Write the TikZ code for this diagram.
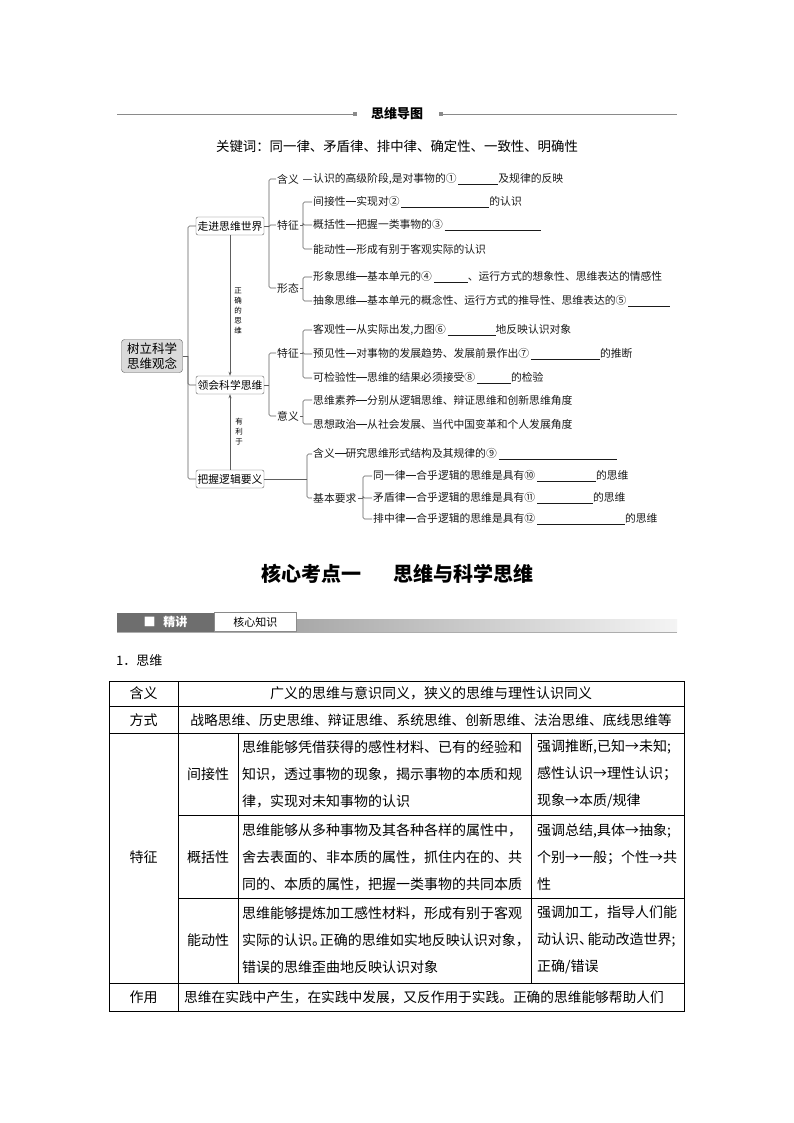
\documentclass[tikz,border=0pt]{standalone}
\usepackage{fontspec}
\setmainfont{Noto Sans CJK SC}
\definecolor{mInk}{HTML}{1A1A1A}
\definecolor{mLine}{HTML}{5E5E5E}
\definecolor{mRoot}{HTML}{DADADA}
\definecolor{mRule}{HTML}{8A8A8A}
\definecolor{mBar}{HTML}{6E6E6E}
\definecolor{mShadeL}{HTML}{A8A8A8}
\definecolor{mShadeR}{HTML}{F4F4F4}
\usetikzlibrary{arrows.meta}
\newcommand{\mmfont}{\fontsize{10.8}{12}\selectfont}
\newcommand{\tbfont}{\fontsize{14}{27}\selectfont}
\newcommand{\fillgap}[1]{\,\rule[-1.5pt]{#1}{0.5pt}}
\newcommand{\mmdash}{\rule[0.36em]{1em}{0.45pt}}

\begin{document}
\begin{tikzpicture}[x=1pt, y=-1pt,
  rootbox/.style={draw=mLine, rounded corners=3pt, fill=mRoot, align=center,
              minimum width=61pt, minimum height=33pt, inner sep=1pt,
              font=\fontsize{12.5}{15.5}\selectfont},
  topicbox/.style={draw=mLine, rounded corners=2pt, fill=white, font=\mmfont,
              minimum width=68pt, minimum height=18pt, inner sep=1pt},
  lbl/.style={font=\mmfont, inner sep=1pt, anchor=west, text=mInk},
  item/.style={font=\mmfont, inner sep=1pt, anchor=west, text=mInk},
  branch/.style={draw=mLine, line width=0.6pt, rounded corners=1.5pt},
  rel/.style={draw=mLine, line width=0.6pt, -{Stealth[length=4pt,width=3pt]}},
  vtxt/.style={font=\fontsize{7.5}{10}\selectfont, align=center, inner sep=0pt},
  sq/.style={fill=mRule, minimum size=4pt, inner sep=0pt},
  rule/.style={draw=mRule, line width=0.8pt},
  cellc/.style={font=\tbfont, inner sep=0pt, align=center},
  cellw/.style={font=\tbfont, inner sep=0pt, align=left, anchor=west},
  grid/.style={draw=black, line width=0.7pt}]

  \useasboundingbox (0,0) rectangle (794,1123);
  \fill[white] (0,0) rectangle (794,1123);

  % title line
  \node[font=\fontsize{13}{15}\selectfont\bfseries, inner sep=0pt] (ttl) at (397,114) {思维导图};
  \node[sq] (sqL) at (355,114) {};
  \node[sq] (sqR) at (441,114) {};
  \coordinate (tlL) at (117,114);
  \coordinate (tlR) at (677,114);
  \draw[rule] (tlL) -- (sqL.west);
  \draw[rule] (sqR.east) -- (tlR);
  \node[font=\fontsize{13.4}{15}\selectfont, inner sep=0pt] (kw) at (397,146)
    {关键词：同一律、矛盾律、排中律、确定性、一致性、明确性};

  % mind map
  \node[rootbox] (root) at (152,356) {树立科学\\思维观念};
  \node[topicbox] (zj) at (230,226) {走进思维世界};
  \node[topicbox] (lh) at (230,385) {领会科学思维};
  \node[topicbox] (bw) at (230,479) {把握逻辑要义};
  \coordinate (b0) at (188,356);
  \draw[branch] (root.east) -- (b0);
  \foreach \n in {zj,lh,bw}{
    \draw[branch] (b0) |- (\n.west);}
  \draw[rel] (zj.south) -- (lh.north);
  \draw[rel] (bw.north) -- (lh.south);
  \node[vtxt] (lbz) at (238,311) {正\\确\\的\\思\\维};
  \node[vtxt] (lby) at (239,432) {有\\利\\于};

  % 走进思维世界
  \node[lbl] (hy1) at (276,179) {含义};
  \node[lbl] (tz1) at (276,225) {特征};
  \node[lbl] (xt1) at (276,288) {形态};
  \coordinate (b1) at (269,226);
  \draw[branch] (zj.east) -- (b1);
  \foreach \n in {hy1,tz1,xt1}{
    \draw[branch] (b1) |- (\n.west);}
  \node[item] (hy1i) at (312,179) {认识的高级阶段,是对事物的①\fillgap{40pt}及规律的反映};
  \draw[branch] ([xshift=3pt]hy1.east) -- (hy1i.west);
  \node[item] (jx) at (312,202) {间接性\mmdash 实现对②\fillgap{88pt}的认识};
  \node[item] (gk) at (312,225) {概括性\mmdash 把握一类事物的③\fillgap{96pt}};
  \node[item] (nd) at (312,249) {能动性\mmdash 形成有别于客观实际的认识};
  \coordinate (b2) at (303,225);
  \draw[branch] (tz1.east) -- (b2);
  \foreach \n in {jx,gk,nd}{
    \draw[branch] (b2) |- (\n.west);}
  \node[item] (xx) at (312,277) {形象思维\mmdash 基本单元的④\fillgap{34pt}、运行方式的想象性、思维表达的情感性};
  \node[item] (cx) at (312,301) {抽象思维\mmdash 基本单元的概念性、运行方式的推导性、思维表达的⑤\fillgap{42pt}};
  \coordinate (b3) at (303,288);
  \draw[branch] (xt1.east) -- (b3);
  \foreach \n in {xx,cx}{
    \draw[branch] (b3) |- (\n.west);}

  % 领会科学思维
  \node[lbl] (tz2) at (276,353) {特征};
  \node[lbl] (yy2) at (276,416) {意义};
  \coordinate (b4) at (269,385);
  \draw[branch] (lh.east) -- (b4);
  \foreach \n in {tz2,yy2}{
    \draw[branch] (b4) |- (\n.west);}
  \node[item] (kg) at (312,330) {客观性\mmdash 从实际出发,力图⑥\fillgap{48pt}地反映认识对象};
  \node[item] (yj) at (312,354) {预见性\mmdash 对事物的发展趋势、发展前景作出⑦\fillgap{69pt}的推断};
  \node[item] (kj) at (312,378) {可检验性\mmdash 思维的结果必须接受⑧\fillgap{34pt}的检验};
  \coordinate (b5) at (303,353);
  \draw[branch] (tz2.east) -- (b5);
  \foreach \n in {kg,yj,kj}{
    \draw[branch] (b5) |- (\n.west);}
  \node[item] (sw) at (312,400) {思维素养\mmdash 分别从逻辑思维、辩证思维和创新思维角度};
  \node[item] (sx) at (312,424) {思想政治\mmdash 从社会发展、当代中国变革和个人发展角度};
  \coordinate (b6) at (303,416);
  \draw[branch] (yy2.east) -- (b6);
  \foreach \n in {sw,sx}{
    \draw[branch] (b6) |- (\n.west);}

  % 把握逻辑要义
  \node[item] (hy3) at (312,454) {含义\mmdash 研究思维形式结构及其规律的⑨\fillgap{118pt}};
  \node[item] (jb) at (312,498) {基本要求};
  \coordinate (b7) at (307,479);
  \draw[branch] (bw.east) -- (b7);
  \foreach \n in {hy3,jb}{
    \draw[branch] (b7) |- (\n.west);}
  \node[item] (ty) at (372,476) {同一律\mmdash 合乎逻辑的思维是具有⑩\fillgap{59pt}的思维};
  \node[item] (md) at (372,498) {矛盾律\mmdash 合乎逻辑的思维是具有⑪\fillgap{56pt}的思维};
  \node[item] (pz) at (372,519) {排中律\mmdash 合乎逻辑的思维是具有⑫\fillgap{88pt}的思维};
  \coordinate (b8) at (363,498);
  \draw[branch] (jb.east) -- (b8);
  \foreach \n in {ty,md,pz}{
    \draw[branch] (b8) |- (\n.west);}

  % heading and banner
  \node[font=\fontsize{20}{23}\selectfont\bfseries, inner sep=0pt] (kd) at (397,574)
    {核心考点一\hspace{32pt}思维与科学思维};
  \shade[left color=mShadeL, right color=mShadeR] (296,619) rectangle (677,632);
  \draw[mRule!70, line width=1.2pt] (117,632.5) -- (677,632.5);
  \node[fill=mBar, text=white, font=\fontsize{12}{14}\selectfont\bfseries,
        minimum width=97pt, minimum height=19pt, inner sep=0pt] (jjg) at (165.5,622) {■\hspace{8pt}精讲};
  \node[draw=mRule, fill=white, font=\fontsize{11}{13}\selectfont, anchor=west,
        minimum width=82pt, minimum height=19pt, inner sep=0pt] (hxzs) at (jjg.east) {核心知识};

  \node[font=\fontsize{13}{15}\selectfont, inner sep=0pt, anchor=west] (sec) at (116,661) {1．思维};

  % table
  \draw[grid] (109,681) rectangle (684,1011);
  \foreach \y in {706,733,983}
    \draw[grid] (109,\y) -- (684,\y);
  \foreach \y in {815,898}
    \draw[grid] (178,\y) -- (684,\y);
  \draw[grid] (178,681) -- (178,1011);
  \foreach \x in {238,531}
    \draw[grid] (\x,733) -- (\x,983);

  \node[cellc] (r1a) at (143.5,693.5) {含义};
  \node[cellc] (r1b) at (431,693.5) {广义的思维与意识同义，狭义的思维与理性认识同义};
  \node[cellc] (r2a) at (143.5,720) {方式};
  \node[cellc, font=\fontsize{13.75}{27}\selectfont] (r2b) at (431,720)
    {战略思维、历史思维、辩证思维、系统思维、创新思维、法治思维、底线思维等};
  \node[cellc] (tzc) at (143.5,857) {特征};
  \node[cellc] (jxc) at (208,774) {间接性};
  \node[cellc] (gkc) at (208,857) {概括性};
  \node[cellc] (ndc) at (208,940) {能动性};
  \node[cellw] (jxd) at (242,774) {思维能够凭借获得的感性材料、已有的经验和\\
    知识，透过事物的现象，揭示事物的本质和规\\律，实现对未知事物的认识};
  \node[cellw] (gkd) at (242,857) {思维能够从多种事物及其各种各样的属性中，\\
    舍去表面的、非本质的属性，抓住内在的、共\\同的、本质的属性，把握一类事物的共同本质};
  \node[cellw] (ndd) at (242,940) {思维能够提炼加工感性材料，形成有别于客观\\
    实际的认识。\kern-0.45em正确的思维如实地反映认识对象，\\错误的思维歪曲地反映认识对象};
  \node[cellw] (jxs) at (537,774) {强调推断,已知→未知;\\感性认识→理性认识；\\现象→本质/规律};
  \node[cellw] (gks) at (537,857) {强调总结,具体→抽象;\\个别→一般；个性→共\\性};
  \node[cellw] (nds) at (537,940) {强调加工，指导人们能\\动认识、\kern-0.4em能动改造世界;\\正确/错误};
  \node[cellc] (zya) at (143.5,997) {作用};
  \node[cellw, font=\fontsize{13.7}{27}\selectfont] (zyb) at (184,997)
    {思维在实践中产生，在实践中发展，又反作用于实践。正确的思维能够帮助人们};
\end{tikzpicture}
\end{document}
